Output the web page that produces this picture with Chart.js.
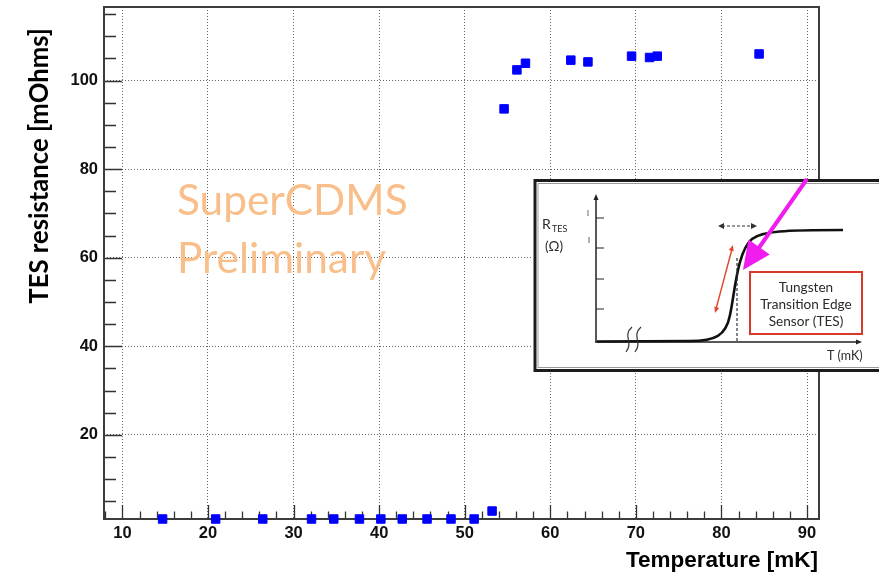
<!DOCTYPE html>
<html>
<head>
<meta charset="utf-8">
<script src="https://cdn.jsdelivr.net/npm/chart.js@4/dist/chart.umd.min.js"></script>
<style>
  html, body { margin: 0; padding: 0; background: #fff; }
  #wrap { width: 879px; height: 573px; position: relative; }
</style>
</head>
<body>
<div id="wrap"><canvas id="canvas" width="879" height="573"></canvas></div>
<script>
// measured points (temperature in mK, resistance in mOhms)
var temps = [14.7, 20.9, 26.4, 32.1, 34.7, 37.7, 40.2, 42.7, 45.6, 48.4, 51.1, 53.2,
             54.6, 56.1, 57.1, 62.4, 64.4, 69.5, 71.6, 72.5, 84.4];
var resistance = [1.0, 1.0, 1.0, 1.0, 1.0, 1.0, 1.0, 1.0, 1.0, 1.0, 1.0, 2.8,
                  93.6, 102.4, 103.9, 104.6, 104.2, 105.5, 105.2, 105.5, 106.0];

// axis ticks
var xMajor = [10, 20, 30, 40, 50, 60, 70, 80, 90];
var yMajor = [20, 40, 60, 80, 100];
var xMinorStep = 2;
var yMinorStep = 5;

var xTitle = "Temperature [mK]";
var yTitle = "TES resistance [mOhms]";
var watermark = ["SuperCDMS", "Preliminary"];

var points = temps.map(function (t, i) { return { x: t, y: resistance[i] }; });

// set font size so the text fills a given width
function fitFont(ctx, text, weight, family, width) {
  ctx.font = weight + " 20px " + family;
  var size = 20 * width / ctx.measureText(text).width;
  ctx.font = weight + " " + size.toFixed(1) + "px " + family;
  return size;
}

function arrowHead(ctx, x1, y1, x2, y2, len, half) {
  var a = Math.atan2(y2 - y1, x2 - x1);
  ctx.beginPath();
  ctx.moveTo(x2, y2);
  ctx.lineTo(x2 - len * Math.cos(a) + half * Math.sin(a), y2 - len * Math.sin(a) - half * Math.cos(a));
  ctx.lineTo(x2 - len * Math.cos(a) - half * Math.sin(a), y2 - len * Math.sin(a) + half * Math.cos(a));
  ctx.closePath();
  ctx.fill();
}

// the pasted schematic in the lower right
function drawInset(ctx) {
  ctx.save();
  ctx.fillStyle = "#fff";
  ctx.fillRect(533, 179, 346, 193);
  ctx.strokeStyle = "#1c1c1c";
  ctx.lineWidth = 3;
  ctx.strokeRect(535, 180.5, 350, 190);
  ctx.strokeStyle = "#999";
  ctx.lineWidth = 1;
  ctx.strokeRect(538, 183.5, 345, 184);

  // axes of the sketch
  ctx.strokeStyle = "#222";
  ctx.fillStyle = "#222";
  ctx.lineWidth = 1.5;
  ctx.beginPath();
  ctx.moveTo(596, 342); ctx.lineTo(596, 198);
  ctx.moveTo(595, 342); ctx.lineTo(858, 342);
  ctx.stroke();
  arrowHead(ctx, 596, 220, 596, 194, 6, 2.5);
  arrowHead(ctx, 840, 342, 862, 342, 6, 2.5);
  ctx.lineWidth = 1.2;
  ctx.beginPath();
  [218, 248, 279, 309].forEach(function (y) { ctx.moveTo(596, y); ctx.lineTo(604, y); });
  ctx.stroke();

  // transition curve
  ctx.lineWidth = 2.6;
  ctx.strokeStyle = "#111";
  ctx.beginPath();
  ctx.moveTo(597, 341.5);
  ctx.lineTo(690, 341);
  ctx.bezierCurveTo(715, 341, 726, 336, 730, 315);
  ctx.bezierCurveTo(735, 292, 737, 252, 752, 239);
  ctx.bezierCurveTo(762, 231, 785, 230, 843, 230);
  ctx.stroke();

  // break marks
  ctx.lineWidth = 1.2;
  ctx.strokeStyle = "#333";
  ctx.beginPath();
  ctx.moveTo(632, 327); ctx.bezierCurveTo(622, 336, 634, 342, 626, 352);
  ctx.moveTo(641, 327); ctx.bezierCurveTo(631, 336, 643, 342, 635, 352);
  ctx.stroke();

  // dashed markers
  ctx.setLineDash([3, 2]);
  ctx.lineWidth = 1.2;
  ctx.beginPath();
  ctx.moveTo(737, 258); ctx.lineTo(737, 342);
  ctx.moveTo(722, 226); ctx.lineTo(753, 226);
  ctx.stroke();
  ctx.setLineDash([]);
  ctx.fillStyle = "#333";
  arrowHead(ctx, 730, 226, 718, 226, 6, 3);
  arrowHead(ctx, 745, 226, 757, 226, 6, 3);

  // red double arrow
  ctx.strokeStyle = "#e2452c";
  ctx.fillStyle = "#e2452c";
  ctx.lineWidth = 1.4;
  ctx.beginPath();
  ctx.moveTo(716, 309); ctx.lineTo(732, 249);
  ctx.stroke();
  arrowHead(ctx, 725, 280, 715, 313, 6, 2.5);
  arrowHead(ctx, 722, 280, 733, 245, 6, 2.5);

  // red box with label
  ctx.strokeStyle = "#d8392b";
  ctx.lineWidth = 2;
  ctx.strokeRect(750, 272, 112, 62);
  ctx.fillStyle = "#2a2a2a";
  ctx.textAlign = "center";
  ctx.textBaseline = "alphabetic";
  ctx.font = "13.6px Lato";
  ctx.fillText("Tungsten", 806, 292);
  ctx.fillText("Transition Edge", 806, 309);
  ctx.fillText("Sensor (TES)", 806, 326);

  // sketch axis labels
  ctx.textAlign = "left";
  ctx.font = "14px Lato";
  ctx.fillText("R", 542, 229);
  ctx.font = "9px Lato";
  ctx.fillText("TES", 552, 232);
  ctx.font = "13.5px Lato";
  ctx.fillText("(\u03A9)", 545, 251);
  ctx.font = "12.5px Lato";
  ctx.fillText("T (mK)", 827, 360);
  ctx.font = "7px Lato";
  ctx.fillText("I", 587, 216);
  ctx.fillText("I", 588, 243);

  // magenta pointer
  ctx.strokeStyle = "#f01cf0";
  ctx.fillStyle = "#f01cf0";
  ctx.lineWidth = 4;
  ctx.beginPath();
  ctx.moveTo(807, 179); ctx.lineTo(756, 252);
  ctx.stroke();
  arrowHead(ctx, 807, 179, 743, 270, 28, 13);
  ctx.restore();
}

var rootStyle = {
  id: "rootStyle",
  beforeDatasetsDraw: function (chart) {
    var ctx = chart.ctx;
    var a = chart.chartArea;
    var xs = chart.scales.x, ys = chart.scales.y;
    ctx.save();
    ctx.strokeStyle = "#333";
    ctx.lineWidth = 1.3;
    ctx.beginPath();
    // x ticks, pointing up from the bottom axis
    for (var v = 8; v <= 91; v += xMinorStep) {
      var px = Math.round(xs.getPixelForValue(v)) + 0.5;
      var len = v % 10 === 0 ? 14 : 7.5;
      ctx.moveTo(px, a.bottom); ctx.lineTo(px, a.bottom - len);
    }
    // y ticks, pointing right from the left axis
    for (var w = 5; w <= 116; w += yMinorStep) {
      var py = Math.round(ys.getPixelForValue(w)) + 0.5;
      var l2 = w % 20 === 0 ? 18 : 12;
      ctx.moveTo(a.left, py); ctx.lineTo(a.left + l2, py);
    }
    ctx.stroke();
    // frame
    ctx.strokeStyle = "#3c3c3c";
    ctx.lineWidth = 2;
    ctx.strokeRect(a.left, a.top, a.right - a.left, a.bottom - a.top);
    // watermark
    ctx.fillStyle = "#f9bf8b";
    ctx.textAlign = "left";
    ctx.textBaseline = "alphabetic";
    var s = fitFont(ctx, watermark[0], "normal", "Lato", 231);
    ctx.fillText(watermark[0], 177, 215);
    ctx.font = "normal " + s.toFixed(1) + "px Lato";
    ctx.fillText(watermark[1], 177, 273);
    ctx.restore();
  },
  afterDraw: function (chart) {
    var ctx = chart.ctx;
    ctx.save();
    drawInset(ctx);
    // axis titles
    ctx.fillStyle = "#000";
    ctx.textBaseline = "alphabetic";
    ctx.textAlign = "right";
    ctx.font = "bold 22.5px 'Liberation Sans'";
    ctx.fillText(xTitle, 818, 567);
    ctx.translate(48, 166);
    ctx.rotate(-Math.PI / 2);
    ctx.textAlign = "center";
    fitFont(ctx, yTitle, "bold", "Lato", 276);
    ctx.fillText(yTitle, 0, 0);
    ctx.restore();
  }
};

var tickFont = { family: "'Liberation Sans'", size: 16.5, weight: "bold" };

new Chart(document.getElementById("canvas"), {
  type: "scatter",
  data: {
    datasets: [{
      data: points,
      pointStyle: "rect",
      radius: 6,
      hoverRadius: 6,
      backgroundColor: "#0000ff",
      borderColor: "#0000ff",
      borderWidth: 1,
      clip: false
    }]
  },
  options: {
    responsive: false,
    animation: false,
    events: [],
    layout: { padding: { left: 0, top: 5, right: 60, bottom: 0 } },
    plugins: { legend: { display: false }, tooltip: { enabled: false } },
    scales: {
      x: {
        type: "linear",
        min: 7.85,
        max: 91.4,
        afterBuildTicks: function (scale) {
          scale.ticks = xMajor.map(function (v) { return { value: v }; });
        },
        afterFit: function (scale) {
          scale.height = 54;
          scale.paddingLeft = 0;
          scale.paddingRight = 0;
        },
        ticks: { font: tickFont, color: "#111", padding: 5, maxRotation: 0, autoSkip: false },
        grid: { drawTicks: false, color: "#666", lineWidth: 1 },
        border: { display: false, dash: [1, 2] }
      },
      y: {
        type: "linear",
        min: 1.0,
        max: 116.6,
        afterBuildTicks: function (scale) {
          scale.ticks = yMajor.map(function (v) { return { value: v }; });
        },
        afterFit: function (scale) {
          scale.width = 104;
          scale.paddingTop = 0;
          scale.paddingBottom = 0;
        },
        ticks: { font: tickFont, color: "#111", padding: 6, autoSkip: false },
        grid: { drawTicks: false, color: "#666", lineWidth: 1 },
        border: { display: false, dash: [1, 2] }
      }
    }
  },
  plugins: [rootStyle]
});
</script>
</body>
</html>
